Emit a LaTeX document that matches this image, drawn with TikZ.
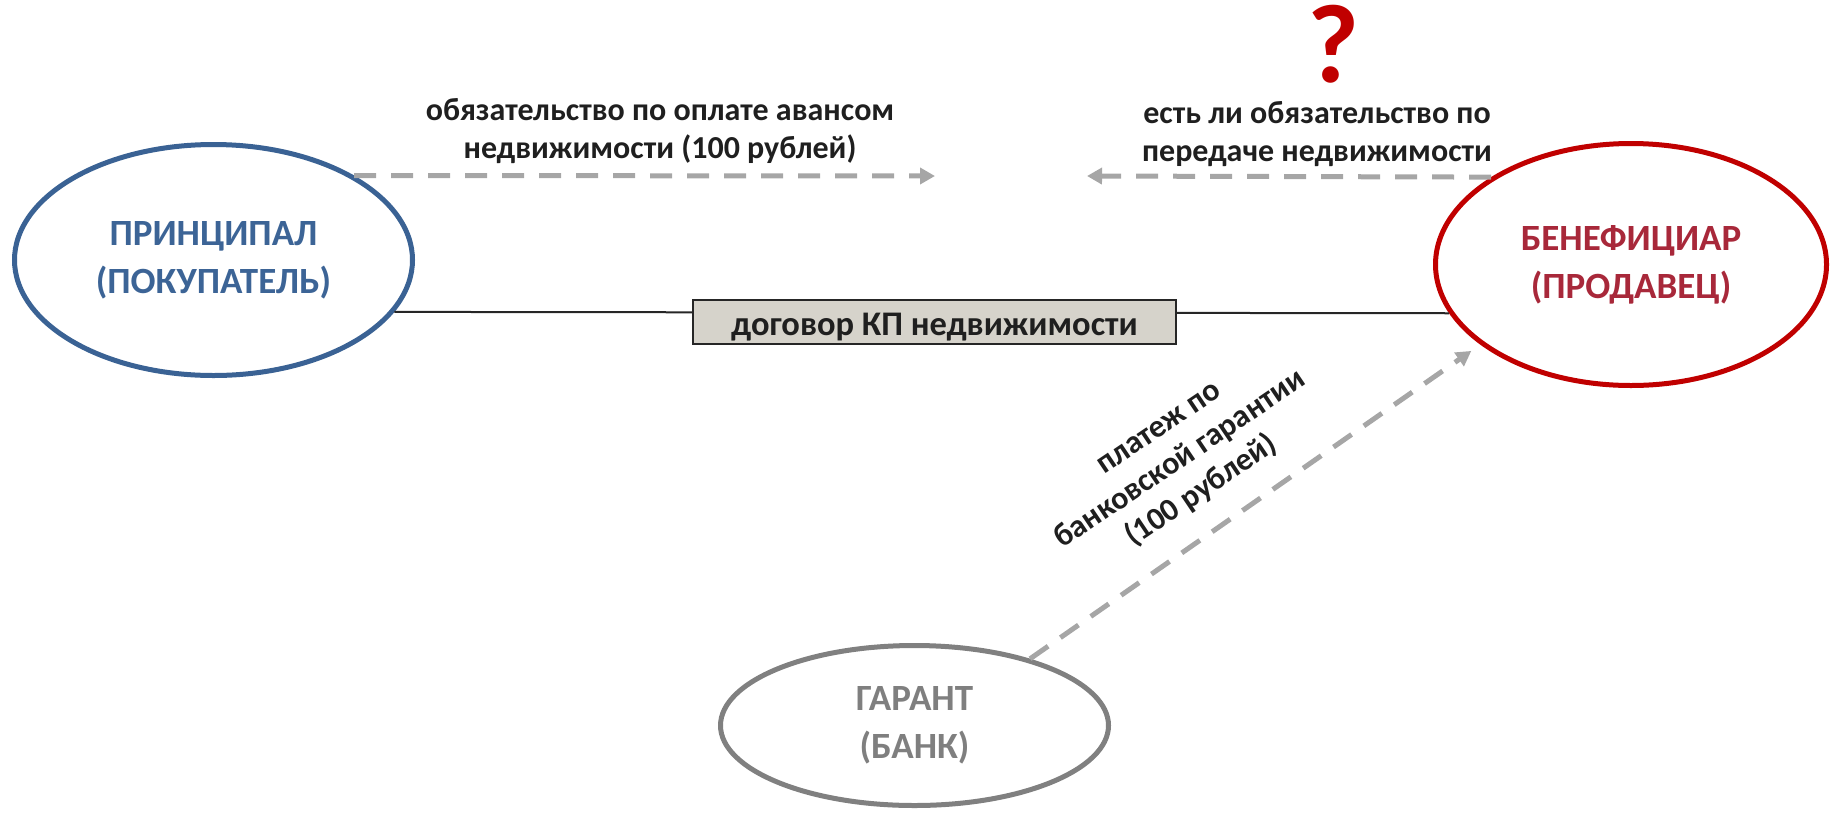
\documentclass[tikz,border=0pt]{standalone}
\usepackage{fontspec}
\setmainfont{Carlito}
\usetikzlibrary{arrows.meta,shapes.geometric}
\definecolor{pblue}{HTML}{3A6294}
\definecolor{pbluetxt}{HTML}{3C6496}
\definecolor{bred}{HTML}{C00000}
\definecolor{bredtxt}{HTML}{A8283A}
\definecolor{ggray}{HTML}{808080}
\definecolor{ggraytxt}{HTML}{7F7F7F}
\definecolor{arrowgray}{HTML}{A6A6A6}
\definecolor{boxfill}{HTML}{D6D3CB}
\definecolor{boxborder}{HTML}{262626}
\definecolor{txt}{HTML}{1F1F1F}
\tikzset{
  party/.style={ellipse, inner sep=0pt, line width=5pt, align=center,
    font=\bfseries\fontsize{37}{48}\selectfont},
  garrow/.style={draw=arrowgray, line width=5pt, dash pattern=on 22pt off 15pt,
    -{Triangle[length=15pt,width=16pt]}},
  lbl/.style={align=center, text=txt, inner sep=0pt,
    font=\bfseries\fontsize{32}{38}\selectfont},
}
\begin{document}
\begin{tikzpicture}[x=1pt,y=-1pt]
\useasboundingbox (0,0) rectangle (1833,812);
\node[party, draw=pblue, text=pbluetxt, minimum width=398, minimum height=231] (P) at (213.5,260) {ПРИНЦИПАЛ\\(ПОКУПАТЕЛЬ)};
\node[party, draw=bred, text=bredtxt, minimum width=391, minimum height=242] (B) at (1631,264.5) {БЕНЕФИЦИАР\\(ПРОДАВЕЦ)};
\node[party, draw=ggray, text=ggraytxt, minimum width=388, minimum height=160] (G) at (914.5,725.5) {ГАРАНТ\\(БАНК)};

\draw[boxborder, line width=2pt] (P.-16.8) -- (B.195.3);
\node[draw=boxborder, fill=boxfill, line width=2pt, minimum width=483, minimum height=44,
  inner sep=0pt, text height=26pt, text depth=0pt, text=txt,
  font=\bfseries\fontsize{34.5}{40}\selectfont] (K) at (934.5,322) {договор КП недвижимости};

\coordinate (a1) at (935,176);
\coordinate (a2) at (1087,176);
\draw[garrow] (P.31) -- (a1);
\draw[garrow] (B.148.2) -- (a2);
\draw[garrow, shorten >=11pt] (G.30.2) -- (B.208.7);

\node[lbl] (L1) at (660,131) {обязательство по оплате авансом\\недвижимости (100 рублей)};
\node[lbl] (L2) at (1317,134) {есть ли обязательство по\\передаче недвижимости};
\node[lbl, rotate=34] (L3) at (1182,462) {платеж по\\банковской гарантии\\(100 рублей)};
\node[anchor=base, text=bred, inner sep=0pt, font=\bfseries\fontsize{112}{112}\selectfont] (Q) at (1333,82) {?};
\end{tikzpicture}
\end{document}
